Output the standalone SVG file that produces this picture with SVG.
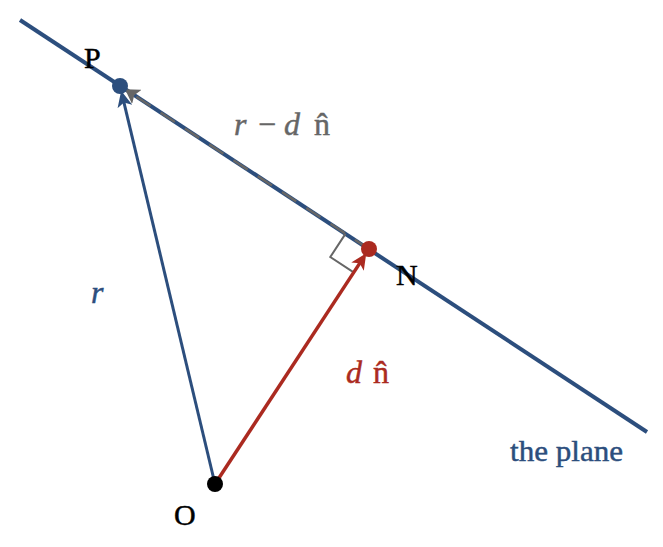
<svg xmlns="http://www.w3.org/2000/svg" width="663" height="547" viewBox="0 0 663 547">
<style>
text{font-family:"Liberation Serif","Times New Roman",serif;font-size:30px;stroke-width:0.45px}
.math{font-size:32px}
.it{font-style:italic}
.blue{fill:#2c4e7d;stroke:#2c4e7d}
.red{fill:#ab2a20;stroke:#ab2a20}
.gray{fill:#666666;stroke:#666666}
.blk{fill:#000000;stroke:#000000}
</style>
<defs>
<marker id="ahBlue" viewBox="0 0 16 15" refX="6" refY="7.5" markerWidth="16" markerHeight="15" markerUnits="userSpaceOnUse" orient="auto"><path d="M0,0 L16,7.5 L0,15 L4,7.5 z" fill="#2c4e7d"/></marker>
<marker id="ahRed" viewBox="0 0 16 15" refX="6" refY="7.5" markerWidth="16" markerHeight="15" markerUnits="userSpaceOnUse" orient="auto"><path d="M0,0 L16,7.5 L0,15 L4,7.5 z" fill="#ab2a20"/></marker>
<marker id="ahGray" viewBox="0 0 14 17" refX="4" refY="8.5" markerWidth="14" markerHeight="17" markerUnits="userSpaceOnUse" orient="auto"><path d="M0,0 L14,8.5 L0,17 L3,8.5 z" fill="#666666"/></marker>
</defs>
<rect width="663" height="547" fill="#ffffff"/>
<g id="plane">
<line x1="20" y1="20" x2="647" y2="432" stroke="#2c4e7d" stroke-width="4"/>
<text class="blue" x="510" y="461" textLength="113" lengthAdjust="spacingAndGlyphs">the plane</text>
</g>
<g id="connectors" fill="none">
<line id="r-minus-dn" x1="369" y1="249" x2="133.4" y2="94.8" stroke="#666666" stroke-width="2.5" stroke-dasharray="17 12" marker-end="url(#ahGray)"/>
<polyline id="right-angle" points="345.6,233.6 330.3,257 353.7,272.4" stroke="#666666" stroke-width="2"/>
<line id="vec-r" x1="215" y1="484" x2="123.5" y2="100.6" stroke="#2c4e7d" stroke-width="3" marker-end="url(#ahBlue)"/>
<line id="vec-dn" x1="215" y1="484" x2="360.8" y2="261.6" stroke="#ab2a20" stroke-width="3.5" marker-end="url(#ahRed)"/>
</g>
<g id="P">
<circle cx="120" cy="86" r="8" fill="#2c4e7d"/>
<text class="blk" x="84" y="68">P</text>
</g>
<g id="N">
<circle cx="369" cy="249" r="8" fill="#ab2a20"/>
<text class="blk" x="396" y="285">N</text>
</g>
<g id="O">
<circle cx="215" cy="484" r="8" fill="#000000"/>
<text class="blk" x="174" y="525">O</text>
</g>
<g id="labels">
<text class="gray math" y="135"><tspan class="it" x="234">r</tspan><tspan x="258">−</tspan><tspan class="it" x="284">d</tspan><tspan x="314">n̂</tspan></text>
<text class="blue math it" x="91" y="303">r</text>
<text class="red math" y="383"><tspan class="it" x="346">d</tspan><tspan x="373">n̂</tspan></text>
</g>
</svg>
